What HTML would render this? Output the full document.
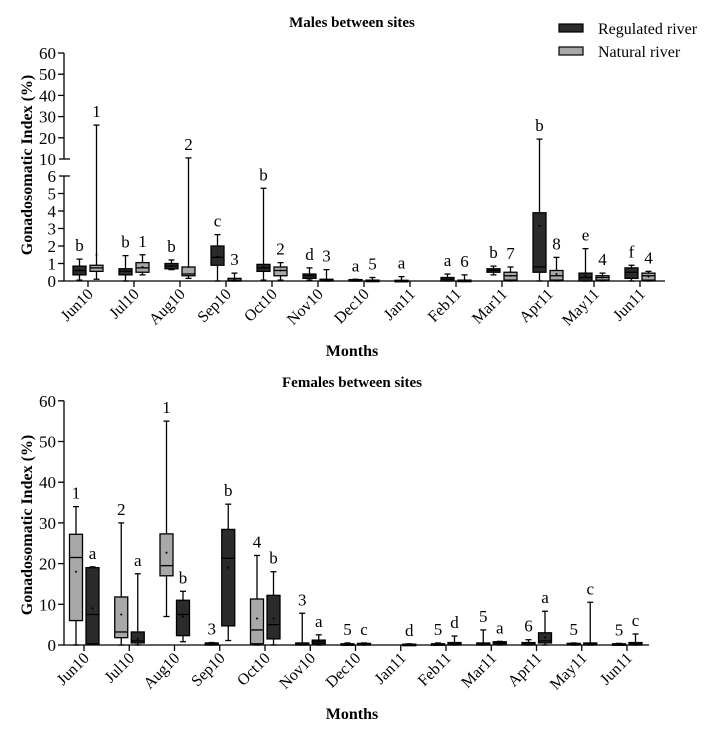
<!DOCTYPE html>
<html><head><meta charset="utf-8"><style>
html,body{margin:0;padding:0;background:#fff;}
svg{display:block;font-family:"Liberation Serif",serif;}
</style></head><body>
<svg id="c" width="706" height="730" viewBox="0 0 706 730" xmlns="http://www.w3.org/2000/svg"></svg>
<script>
const months=["Jun10","Jul10","Aug10","Sep10","Oct10","Nov10","Dec10","Jan11","Feb11","Mar11","Apr11","May11","Jun11"];
// [q1, median, q3, min, max, mean] ; null = no data
const maleReg=[[0.35,0.6,0.85,0.05,1.25,0.6],[0.35,0.55,0.7,0,1.45,0.55],[0.7,0.85,1.0,0.65,1.2,0.85],[0.9,1.35,2.0,0,2.65,1.4],[0.55,0.75,0.95,0.05,5.3,0.8],[0.15,0.3,0.4,0.05,0.75,0.3],[0,0.03,0.08,0,0.1,0.04],[0,0.02,0.04,0,0.25,0.03],[0,0.1,0.2,0,0.4,0.1],[0.5,0.6,0.7,0.35,0.85,0.6],[0.5,0.8,3.9,0,19.4,3.15],[0,0.2,0.45,0,1.85,0.3],[0.15,0.5,0.75,0,0.9,0.5]];
const maleNat=[[0.55,0.75,0.9,0.1,26,1.5],[0.5,0.75,1.05,0.35,1.5,0.8],[0.3,0.4,0.8,0.15,10.5,0.8],[0,0.05,0.15,0,0.45,0.1],[0.3,0.6,0.8,0.05,1.05,0.6],[0,0.05,0.1,0,0.65,0.05],[0,0.02,0.05,0,0.2,0.03],null,[0,0.02,0.05,0,0.35,0.03],[0.05,0.3,0.5,0,0.8,0.3],[0.05,0.3,0.6,0,1.35,0.4],[0.05,0.2,0.3,0,0.45,0.2],[0.05,0.3,0.45,0,0.55,0.25]];
const maleRegLbl=["b","b","b","c","b","d","a","a","a","b","b","e","f"];
const maleNatLbl=["1","1","2","3","2","3","5","","6","7","8","4","4"];
const femNat=[[6,21.5,27.2,0,34,18],[1.8,3.2,11.8,0,30,7.5],[17,19.5,27.3,7,55,22.7],[0,0.2,0.5,0,0.6,0.2],[0.3,3.7,11.3,0,22,6.5],[0,0.2,0.5,0,7.8,0.2],[0,0.1,0.3,0,0.5,0.1],null,[0,0.1,0.3,0,0.5,0.1],[0,0.2,0.5,0,3.7,0.2],[0,0.3,0.6,0,1.3,0.3],[0,0.2,0.4,0,0.5,0.2],[0,0.1,0.3,0,0.4,0.1]];
const femReg=[[0.3,7.5,19,0.3,19.2,9],[0.5,1,3.2,0,17.5,1.5],[2.3,7.5,11,0.8,13.2,7],[4.7,21.3,28.4,1.1,34.6,19],[1.5,5,12.2,0,18,6.5],[0.3,0.8,1.2,0,2.5,0.8],[0,0.2,0.4,0,0.5,0.2],[0,0.1,0.2,0,0.3,0.1],[0,0.3,0.6,0,2.2,0.3],[0.3,0.6,0.8,0,0.9,0.6],[0.5,1,3,0,8.3,1.8],[0,0.3,0.5,0,10.5,0.3],[0,0.3,0.6,0,2.7,0.3]];
const femNatLbl=["1","2","1","3","4","3","5","","5","5","6","5","5"];
const femRegLbl=["a","a","b","b","b","a","c","d","d","a","a","c","c"];
const topLowTicks=[0,1,2,3,4,5,6];
const topHighTicks=[10,20,30,40,50,60];
const botTicks=[0,10,20,30,40,50,60];

const NS="http://www.w3.org/2000/svg";
const svg=document.getElementById('c');
function el(tag,attrs,parent){const e=document.createElementNS(NS,tag);for(const k in attrs)e.setAttribute(k,attrs[k]);(parent||svg).appendChild(e);return e;}
function txt(s,attrs,parent){const e=el('text',attrs,parent);e.textContent=s;return e;}
const DARK="#2b2b2b",GREY="#a8a8a8";

function yTop(v){return v<=6?281-v*17.5:159-(v-10)*2.12;}
function xTop(i){return 88+i*46;}
function yBot(v){return 645-v*4.07;}
function xBot(i){return 84+i*45.25;}

function drawBox(g,cx,d,y,fill,name){
  const w=13;
  const b=el('g',{},g);
  
  
  el('line',{x1:cx,x2:cx,y1:y(d[4]),y2:y(d[3]),stroke:'#000','stroke-width':1.3},b);
  el('line',{x1:cx-3,x2:cx+3,y1:y(d[4]),y2:y(d[4]),stroke:'#000','stroke-width':1.3},b);
  el('line',{x1:cx-3,x2:cx+3,y1:y(d[3]),y2:y(d[3]),stroke:'#000','stroke-width':1.3},b);
  const top=y(d[2]),bot=y(d[0]);
  el('rect',{x:cx-w/2,y:top,width:w,height:Math.max(bot-top,1.5),fill:fill,stroke:'#000','stroke-width':1.3},b);
  el('line',{x1:cx-w/2,x2:cx+w/2,y1:y(d[1]),y2:y(d[1]),stroke:'#000','stroke-width':1.3},b);
  el('circle',{cx:cx,cy:y(d[5]),r:1,fill:'#000'},b);
}

function panel(opts){
  const g=el('g',{});
  
  
  const t=txt(opts.title,{x:352,y:opts.titleY,'text-anchor':'middle','font-size':15,'font-weight':'bold'},g);
  
  
  const yl=txt('Gonadosomatic Index (%)',{x:0,y:0,'text-anchor':'middle','font-size':16,'font-weight':'bold',transform:`translate(32,${opts.yLabelY}) rotate(-90)`},g);
  
  
  const xl=txt('Months',{x:352,y:opts.xLabelY,'text-anchor':'middle','font-size':16,'font-weight':'bold'},g);
  
  
  el('line',{x1:64,x2:opts.xEnd,y1:opts.y(0),y2:opts.y(0),stroke:'#000','stroke-width':1.3},g);
  months.forEach((m,i)=>{
    const x=opts.x(i);
    el('line',{x1:x,x2:x,y1:opts.y(0),y2:opts.y(0)+6,stroke:'#000','stroke-width':1.3},g);
    const lb=txt(m,{x:0,y:0,'text-anchor':'end','font-size':16,transform:`translate(${x+6},${opts.y(0)+14}) rotate(-45)`},g);
    
    
  });
  opts.axis(g);
  months.forEach((m,i)=>{
    opts.series.forEach(s=>{
      const d=s.data[i];if(!d)return;
      const cx=opts.x(i)+s.off;
      drawBox(g,cx,d,opts.y,s.fill,'box-'+s.key+'-'+m);
      const l=s.lbl[i];
      if(l){
        const lt=txt(l,{x:cx,y:opts.y(d[4])-8,'text-anchor':'middle','font-size':17},g);
        
        
      }
    });
  });
}

panel({name:'males-panel',title:'Males between sites',titleY:27,yLabelY:165,xLabelY:356,xEnd:665,
  x:xTop,y:yTop,
  axis:(g)=>{
    el('line',{x1:64,x2:64,y1:yTop(0),y2:yTop(6),stroke:'#000','stroke-width':1.3},g);
    el('line',{x1:64,x2:64,y1:yTop(10),y2:yTop(60),stroke:'#000','stroke-width':1.3},g);
    topLowTicks.concat(topHighTicks).forEach(v=>{
      const y=yTop(v);const wide=(v==6||v==10);
      el('line',{x1:wide?59:58,x2:wide?70:64,y1:y,y2:y,stroke:'#000','stroke-width':1.3},g);
      const tl=txt(String(v),{x:56,y:y+6,'text-anchor':'end','font-size':17},g);
      
      
    });
  },
  series:[{key:'regulated',data:maleReg,lbl:maleRegLbl,off:-8.5,fill:DARK},{key:'natural',data:maleNat,lbl:maleNatLbl,off:8.5,fill:GREY}]
});
panel({name:'females-panel',title:'Females between sites',titleY:387,yLabelY:525,xLabelY:719,xEnd:649,
  x:xBot,y:yBot,
  axis:(g)=>{
    el('line',{x1:64,x2:64,y1:yBot(0),y2:yBot(60),stroke:'#000','stroke-width':1.3},g);
    botTicks.forEach(v=>{
      const y=yBot(v);
      el('line',{x1:58,x2:64,y1:y,y2:y,stroke:'#000','stroke-width':1.3},g);
      const tl=txt(String(v),{x:56,y:y+6,'text-anchor':'end','font-size':17},g);
      
      
    });
  },
  series:[{key:'natural',data:femNat,lbl:femNatLbl,off:-8,fill:GREY},{key:'regulated',data:femReg,lbl:femRegLbl,off:8.5,fill:DARK}]
});

const lg=el('g',{});


const e1=el('g',{},lg);


el('rect',{x:559,y:24,width:24,height:8,fill:DARK,stroke:'#000','stroke-width':1.2},e1);
txt('Regulated river',{x:598,y:34,'font-size':16},e1);
const e2=el('g',{},lg);


el('rect',{x:559,y:47,width:24,height:8,fill:GREY,stroke:'#000','stroke-width':1.2},e2);
txt('Natural river',{x:598,y:57,'font-size':16},e2);
</script>
</body></html>
